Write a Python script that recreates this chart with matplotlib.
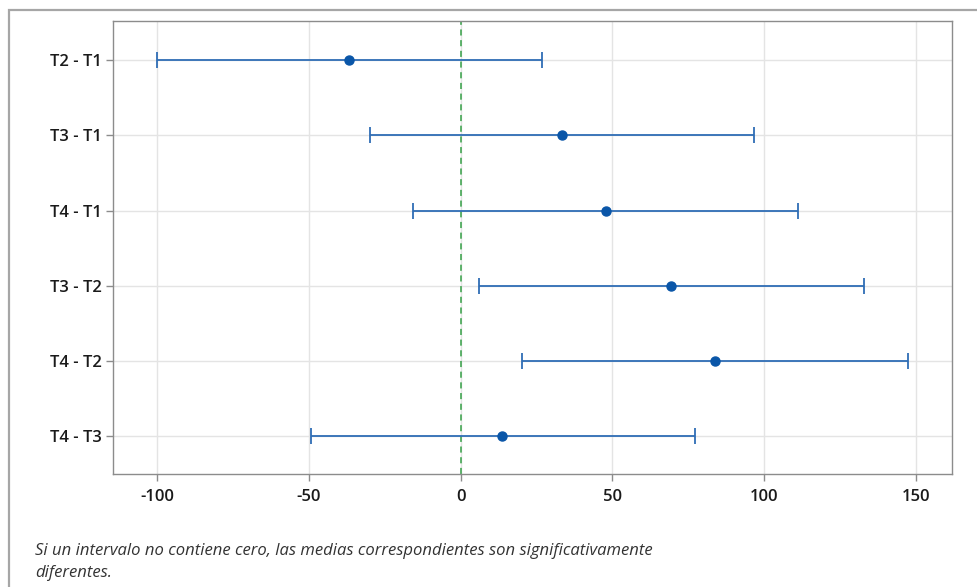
import matplotlib.pyplot as plt
from matplotlib.patches import Rectangle

# Tukey simultaneous intervals for differences of means
labels = ["T2 - T1", "T3 - T1", "T4 - T1", "T3 - T2", "T4 - T2", "T4 - T3"]
centers = [-36.8, 33.4, 47.9, 69.3, 83.8, 13.6]
lowers = [-100.0, -29.8, -15.7, 6.1, 20.2, -49.3]
uppers = [26.8, 96.7, 111.3, 132.9, 147.4, 77.2]
xticks = [-100, -50, 0, 50, 100, 150]
note = ("Si un intervalo no contiene cero, las medias correspondientes son significativamente\n"
        "diferentes.")

plt.rcParams['font.family'] = ['Open Sans', 'DejaVu Sans']
plt.rcParams['axes.unicode_minus'] = False

fig = plt.figure(figsize=(9.77, 5.87), dpi=100)
ax = fig.add_axes([113/977, 1-474/587, (952-113)/977, (474-21)/587])

# outer frame of the output window
fig.patches.append(Rectangle((9/977, -0.05), 1.0, 1.05-10/587, transform=fig.transFigure,
                             fill=False, edgecolor="#a6a6a6", linewidth=1.6, zorder=0))

ypos = list(range(len(labels)))
err_lo = [c - l for c, l in zip(centers, lowers)]
err_hi = [u - c for c, u in zip(centers, uppers)]

ax.axvline(0, color="#35a046", linestyle=(0, (4, 3)), linewidth=1.1, zorder=1)
ax.errorbar(centers, ypos, xerr=[err_lo, err_hi], fmt="o", color="#0a56a8",
            ecolor="#2f6db5", elinewidth=1.3, capsize=5.8, capthick=1.3,
            markersize=6.5, zorder=3)

ax.set_ylim(5.5, -0.52)
ax.set_xlim(-114.5, 161.9)
ax.set_yticks(ypos)
ax.set_yticklabels(labels)
ax.set_xticks(xticks)
ax.grid(True, color="#e4e4e4", linewidth=1.0)
ax.set_axisbelow(True)

for s in ax.spines.values():
    s.set_color("#8c8c8c")
    s.set_linewidth(1.0)
ax.tick_params(axis="both", colors="#8c8c8c", labelcolor="#1a1a1a", labelsize=12,
               length=5, width=1.0)
for t in ax.get_xticklabels() + ax.get_yticklabels():
    t.set_fontweight("semibold")
ax.tick_params(axis="x", pad=6)
ax.tick_params(axis="y", pad=3)

fig.text(35/977, 1-562/587, note, fontsize=12, style="italic", color="#333333",
         va="center", linespacing=1.45)

fig.savefig("out.png", dpi=100)
